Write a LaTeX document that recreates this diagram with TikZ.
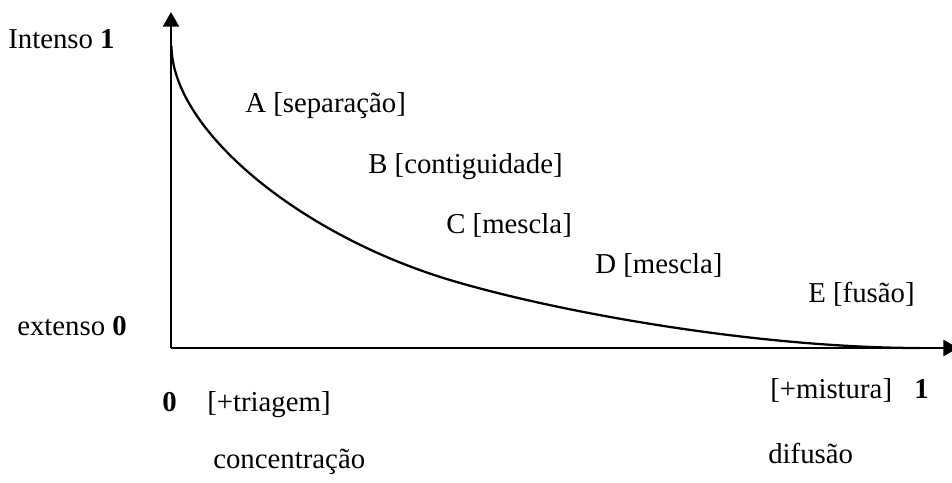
\documentclass[tikz,border=0pt]{standalone}
\usepackage{fontspec}
\setmainfont{Liberation Serif}
\usetikzlibrary{arrows.meta}

\begin{document}
\begin{tikzpicture}[x=0.75pt,y=-0.75pt,
  lbl/.style={anchor=base west, inner sep=0pt, font=\fontsize{21.6}{26}\selectfont},
  axis/.style={line width=1.8pt, -{Triangle[length=11pt,width=12pt]}}]
\useasboundingbox (0,0) rectangle (952,482);
\clip (0,0) rectangle (952,482);

\coordinate (O) at (171,348);
\coordinate (Ytop) at (171,12);
\coordinate (Xend) at (958,348);
\coordinate (Cstart) at (171.5,46);
\coordinate (Cmid) at (450,280);
\coordinate (Cend) at (920,348);

% eixos
\draw[axis] (O) -- (Ytop);
\draw[axis] (O) -- (Xend);

% curva
\draw[line width=1.7pt] (Cstart) .. controls (172,130) and (300,235) .. (Cmid)
  .. controls (560,313) and (760,348) .. (Cend);

\path (8,48) node (intenso) [lbl] {Intenso \textbf{1}};
\path (17,335) node (extenso) [lbl] {extenso \textbf{0}};
\path (162,411) node (zero) [lbl] {\textbf{0}};
\path (207,411) node (triagem) [lbl] {[+triagem]};
\path (213,468) node (concentracao) [lbl] {concentração};
\path (770,398) node (mistura) [lbl] {[+mistura]};
\path (914,398) node (um) [lbl] {\textbf{1}};
\path (768,463) node (difusao) [lbl] {difusão};

\path (245,112) node (A) [lbl] {A [separação]};
\path (368,173) node (B) [lbl] {B [contiguidade]};
\path (446,233) node (C) [lbl] {C [mescla]};
\path (595,273) node (D) [lbl] {D [mescla]};
\path (808,302) node (E) [lbl] {E [fusão]};

\end{tikzpicture}
\end{document}
